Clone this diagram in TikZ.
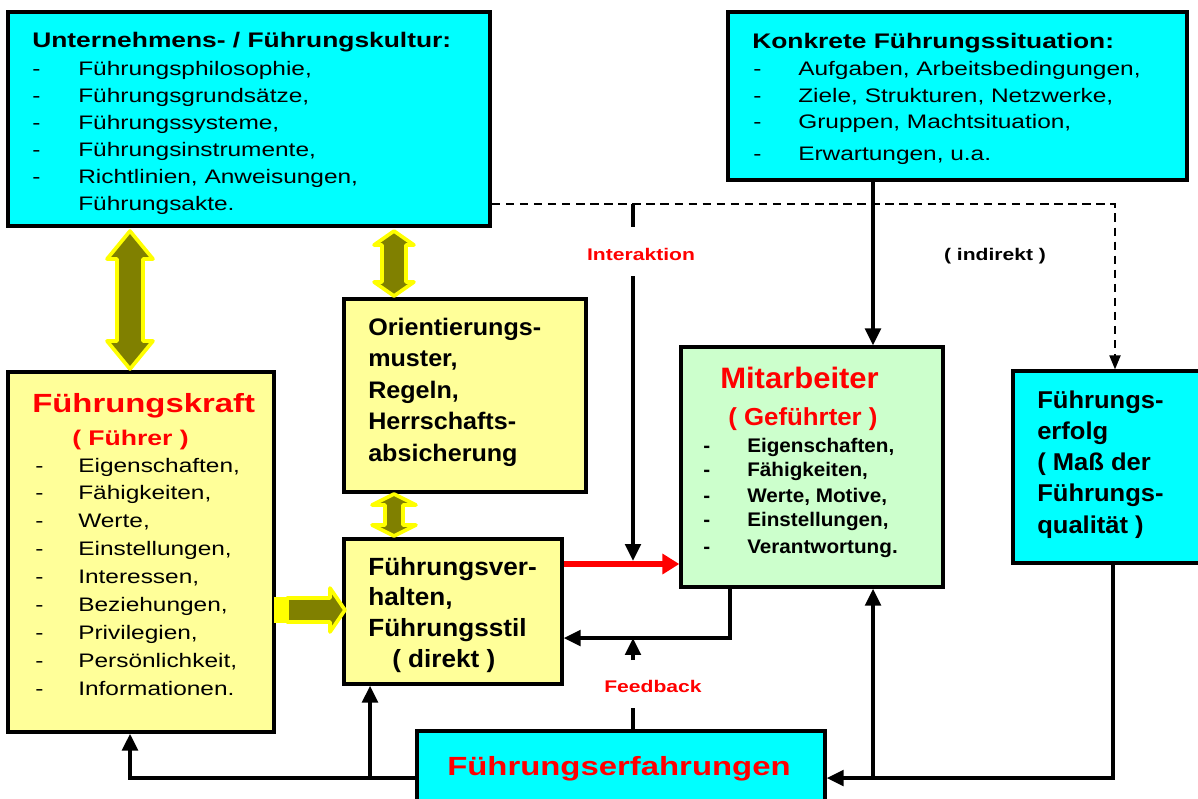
\documentclass[tikz,border=0pt]{standalone}
\usepackage{fontspec}
\setmainfont{Liberation Sans}[FakeStretch=1.25]
\newfontfamily\narrowfont{Liberation Sans}[FakeStretch=1.05]
\usetikzlibrary{arrows.meta,fit}
\definecolor{cyanbox}{HTML}{00FFFF}
\definecolor{paleyellow}{HTML}{FFFF99}
\definecolor{palegreen}{HTML}{CCFFCC}
\definecolor{blockolive}{HTML}{808000}
\definecolor{blockyellow}{HTML}{FFFF00}
\tikzset{
  >={Triangle[length=12pt,width=11pt]},
  panel/.style={draw, line width=2.4pt, inner sep=0pt},
  link/.style={line width=2.6pt},
  blockarrow/.style={fill=blockolive, draw=blockyellow, line width=2.6pt, line join=round},
  item/.style={anchor=base west, inner sep=0pt, font=\fontsize{13.9}{17}\selectfont},
  head/.style={anchor=base west, inner sep=0pt, font=\bfseries\fontsize{15}{18}\selectfont},
  boldtext/.style={anchor=base west, inner sep=0pt, font=\narrowfont\bfseries\fontsize{17}{20}\selectfont},
  smallbold/.style={anchor=base west, inner sep=0pt, font=\narrowfont\bfseries\fontsize{14}{17}\selectfont},
  redhead/.style={anchor=base west, inner sep=0pt, text=red, font=\bfseries\fontsize{18.7}{22}\selectfont},
  redsub/.style={anchor=base west, inner sep=0pt, text=red, font=\bfseries\fontsize{15.1}{18}\selectfont},
  note/.style={anchor=base, inner sep=0pt, font=\bfseries\fontsize{12}{15}\selectfont},
}

\begin{document}
\begin{tikzpicture}[x=0.025cm, y=-0.025cm]
  \useasboundingbox (0,0) rectangle (1198,798);
  \clip (0,0) rectangle (1198,798);

  % boxes
  \node[panel, fill=cyanbox, fit={(8,12) (490,226)}] (kultur) {};
  \node[panel, fill=cyanbox, fit={(728,12) (1187,180)}] (lage) {};
  \node[panel, fill=paleyellow, fit={(8,372) (274,732)}] (kraft) {};
  \node[panel, fill=paleyellow, fit={(344,299) (586,492)}] (muster) {};
  \node[panel, fill=paleyellow, fit={(344,539) (562,684)}] (stil) {};
  \node[panel, fill=palegreen, fit={(681,347) (943,587)}] (mitarb) {};
  \node[panel, fill=cyanbox, fit={(1013,371) (1210,563)}] (erfolg) {};
  \node[panel, fill=cyanbox, fit={(417,731) (825,815)}] (erfahr) {};

  % block arrows
  \filldraw[blockarrow] (130,231) -- (153,259) -- (143,259) -- (143,341) -- (153,341) -- (130,369)
    -- (107,341) -- (117,341) -- (117,259) -- (107,259) -- cycle;
  \filldraw[blockarrow] (394,231) -- (414,245) -- (406,245) -- (406,282) -- (414,282) -- (394,296)
    -- (374,282) -- (382,282) -- (382,245) -- (374,245) -- cycle;
  \filldraw[blockarrow] (394,494) -- (416,505) -- (403,505) -- (403,525) -- (416,525) -- (394,536)
    -- (372,525) -- (385,525) -- (385,505) -- (372,505) -- cycle;
  \fill[blockyellow] (274,597) rectangle (289,623);
  \filldraw[blockarrow] (287,598) -- (330,598) -- (330,588) -- (345,610) -- (330,632) -- (330,622)
    -- (287,622) -- cycle;

  % connectors
  \coordinate (iatop) at (633,204);
  \coordinate (iagap) at (633,227);
  \coordinate (iastart) at (633,276);
  \coordinate (iaend) at (633,561);
  \coordinate (fbgap) at (633,708);
  \coordinate (fbstart) at (633,660);
  \coordinate (fbend) at (633,638);
  \draw[dash pattern=on 6pt off 4pt, line width=1.1pt, -{Triangle[length=10pt,width=8pt]}]
    (kultur.east |- iatop) -| (erfolg.north -| 1115,0);
  \draw[link] (iatop) -- (iagap);
  \draw[link, ->] (iastart) -- (iaend);
  \draw[red, line width=4pt, -{Triangle[length=12pt,width=14pt]}] (stil.east |- 0,564) -- (mitarb.west |- 0,564);
  \draw[link, ->] (lage.south -| 873,0) -- (mitarb.north -| 873,0);
  \draw[link, ->] (mitarb.south -| 730,0) |- (stil.east |- fbend);
  \draw[link] (erfahr.north -| fbgap) -- (fbgap);
  \draw[link, ->] (fbstart) -- (fbend);
  \draw[link, ->] (erfahr.west |- 0,778) -| (kraft.south -| 130,0);
  \draw[link, ->] (370,778) -- (stil.south -| 370,0);
  \draw[link, ->] (erfolg.south -| 1113,0) |- (erfahr.east |- 0,778);
  \draw[link, ->] (873,778) -- (mitarb.south -| 873,0);

  % labels
  \node[note, text=red] (interaktion) at (641,260) {Interaktion};
  \node[note] (indirekt) at (995,260) {( indirekt )};
  \node[note, text=red] (feedback) at (653,692) {Feedback};

  % texts
  \node[head] (kulturhead) at (32,47) {Unternehmens- / Führungskultur:};
  \foreach \txt [count=\i from 0] in {{Führungsphilosophie,},{Führungsgrundsätze,},{Führungssysteme,},{Führungsinstrumente,},{Richtlinien, Anweisungen,}} {
    \node[item] (kulturdash\i) at (32,75+27*\i) {-};
    \node[item] (kulturitem\i) at (78,75+27*\i) {\txt};
  }
  \node[item] (kulturitem5) at (78,210) {Führungsakte.};

  \node[head] (lagehead) at (752,48) {Konkrete Führungssituation:};
  \foreach \txt/\y [count=\i] in {{Aufgaben, Arbeitsbedingungen,}/75,{Ziele, Strukturen, Netzwerke,}/102,{Gruppen, Machtsituation,}/128,{Erwartungen, u.a.}/160} {
    \node[item] (lagedash\i) at (753,\y) {-};
    \node[item] (lageitem\i) at (798,\y) {\txt};
  }

  \node[redhead] (krafthead) at (32,412) {Führungskraft};
  \node[redsub] (kraftsub) at (72,445) {( Führer )};
  \foreach \txt [count=\i from 0] in {{Eigenschaften,},{Fähigkeiten,},{Werte,},{Einstellungen,},{Interessen,},{Beziehungen,},{Privilegien,},{Persönlichkeit,},{Informationen.}} {
    \node[item] (kraftdash\i) at (35,472+27.9*\i) {-};
    \node[item] (kraftitem\i) at (78,472+27.9*\i) {\txt};
  }

  \foreach \txt [count=\i from 0] in {Orientierungs-,{muster,},{Regeln,},Herrschafts-,absicherung}
    \node[boldtext] (mustertext\i) at (368,335+31.5*\i) {\txt};

  \foreach \txt [count=\i from 0] in {Führungsver-,{halten,},Führungsstil}
    \node[boldtext, font=\narrowfont\bfseries\fontsize{17.7}{20}\selectfont] (stiltext\i) at (368,575+30.7*\i) {\txt};
  \node[boldtext, font=\narrowfont\bfseries\fontsize{17.7}{20}\selectfont] (stiltext3) at (392,667) {( direkt )};

  \node[redhead, font=\narrowfont\bfseries\fontsize{21}{24}\selectfont] (mitarbhead) at (720,388) {Mitarbeiter};
  \node[redsub, font=\narrowfont\bfseries\fontsize{17.5}{20}\selectfont] (mitarbsub) at (728,425) {( Geführter )};
  \foreach \txt/\y [count=\i] in {{Eigenschaften,}/452,{Fähigkeiten,}/476,{Werte, Motive,}/502,{Einstellungen,}/526,{Verantwortung.}/553} {
    \node[smallbold] (mitarbdash\i) at (703,\y) {-};
    \node[smallbold] (mitarbitem\i) at (747,\y) {\txt};
  }

  \foreach \txt [count=\i from 0] in {Führungs-,erfolg,{( Maß der},Führungs-,{qualität )}}
    \node[boldtext, font=\narrowfont\bfseries\fontsize{17.3}{20}\selectfont] (erfolgtext\i) at (1037,408+31.25*\i) {\txt};

  \node[redhead] (erfahrtext) at (447,775) {Führungserfahrungen};
\end{tikzpicture}
\end{document}
